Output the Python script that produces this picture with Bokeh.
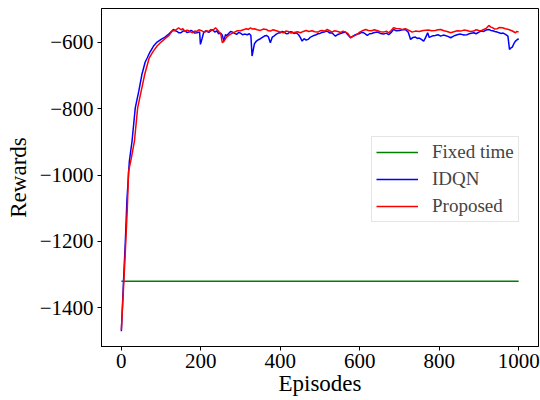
from bokeh.plotting import figure
from bokeh.models import Range1d, FixedTicker, Legend, LegendItem
from bokeh.embed import file_html
from bokeh.resources import INLINE

# ---- data ----
idqn_ep = [0, 5, 10, 14, 20, 27, 35, 44, 52, 60, 65, 72, 81, 90, 100, 110, 120, 131, 136, 140, 145,
           150, 155, 160, 165, 170, 175, 180, 185, 190, 197, 199, 203, 207, 212, 215, 220, 225, 230,
           235, 240, 245, 250, 254, 258, 262, 266, 270, 275, 280, 285, 290, 295, 300, 305, 310, 317,
           322, 326, 329, 335, 340, 345, 350, 355, 360, 365, 370, 375, 380, 385, 390, 395, 400, 405,
           410, 415, 420, 425, 430, 435, 440, 446, 450, 455, 460, 465, 470, 475, 480, 485, 490, 495,
           500, 505, 510, 518, 525, 530, 535, 539, 545, 550, 557, 564, 570, 577, 583, 589, 595, 600,
           605, 610, 619, 625, 630, 637, 645, 652, 660, 667, 673, 680, 685, 692, 700, 707, 715, 722,
           728, 734, 740, 745, 750, 755, 761, 766, 771, 775, 782, 790, 797, 804, 810, 815, 822, 829,
           835, 840, 847, 854, 862, 870, 878, 887, 893, 900, 906, 912, 918, 925, 930, 935, 940, 946,
           951, 955, 961, 967, 973, 977, 980, 984, 988, 992, 996, 1000]
idqn_val = [-1470, -1330, -1200, -1076, -960, -897, -798, -747, -696, -660, -648, -630, -612, -600,
            -592, -585, -575, -562, -566, -568, -572, -572, -567, -566, -571, -570, -565, -568,
            -573, -572, -570, -607, -590, -572, -566, -568, -571, -566, -563, -570, -566, -575,
            -573, -579, -597, -578, -580, -574, -568, -570, -574, -577, -571, -573, -578, -576,
            -578, -575, -580, -642, -605, -597, -593, -590, -586, -582, -580, -584, -602, -585,
            -581, -576, -573, -572, -568, -570, -575, -574, -569, -570, -574, -572, -578, -585,
            -597, -590, -594, -592, -586, -583, -580, -578, -575, -574, -571, -570, -567, -573,
            -572, -578, -582, -577, -575, -572, -570, -578, -587, -582, -578, -576, -574, -571,
            -572, -580, -575, -574, -571, -570, -574, -576, -573, -578, -570, -562, -566, -565,
            -563, -562, -570, -592, -586, -585, -589, -588, -592, -597, -586, -572, -586, -582,
            -580, -578, -582, -579, -580, -583, -587, -583, -580, -577, -576, -579, -578, -574,
            -572, -575, -570, -567, -568, -564, -562, -565, -566, -568, -570, -572, -574, -573,
            -577, -582, -622, -618, -615, -605, -597, -593, -590]

prop_ep = [0, 5, 10, 15, 17, 18, 25, 33, 41, 50, 59, 70, 80, 90, 100, 110, 120, 128, 135, 140, 144,
           150, 155, 160, 165, 170, 175, 180, 185, 190, 195, 200, 205, 210, 215, 220, 225, 230, 237,
           241, 245, 250, 254, 258, 265, 270, 275, 280, 285, 292, 300, 307, 315, 320, 325, 330, 335,
           342, 350, 357, 365, 370, 375, 382, 390, 398, 408, 414, 420, 427, 435, 443, 451, 458, 465,
           472, 480, 487, 495, 500, 505, 512, 518, 524, 530, 537, 545, 552, 558, 564, 570, 577, 583,
           589, 595, 600, 607, 615, 622, 630, 637, 645, 652, 660, 667, 673, 679, 685, 692, 700, 707,
           715, 724, 732, 740, 750, 760, 773, 781, 790, 797, 804, 812, 820, 829, 837, 845, 854, 862,
           870, 878, 887, 893, 900, 906, 912, 918, 925, 930, 935, 940, 946, 952, 959, 967, 975, 983,
           992, 996, 1000]
prop_val = [-1466, -1350, -1230, -1100, -1030, -990, -950, -897, -798, -747, -696, -648, -628,
            -612, -600, -590, -580, -567, -565, -561, -557, -563, -560, -568, -564, -566, -570,
            -572, -567, -568, -563, -565, -568, -570, -566, -568, -562, -565, -557, -562, -568,
            -574, -602, -598, -585, -580, -576, -573, -570, -566, -566, -563, -560, -562, -557,
            -561, -560, -563, -565, -561, -562, -566, -567, -563, -566, -569, -572, -567, -568,
            -573, -571, -569, -572, -568, -565, -568, -566, -569, -570, -566, -565, -567, -562,
            -566, -570, -566, -568, -571, -567, -570, -574, -587, -583, -580, -575, -570, -566,
            -562, -565, -566, -563, -566, -569, -570, -567, -572, -565, -557, -559, -560, -562,
            -560, -565, -570, -567, -568, -565, -564, -566, -565, -563, -562, -566, -568, -572,
            -569, -566, -567, -564, -565, -568, -567, -563, -565, -566, -562, -559, -550, -555,
            -557, -561, -560, -556, -557, -560, -562, -566, -572, -568, -570]

fixed_ep = [0, 1000]
fixed_val = [-1320, -1320]

x_ticks = [0, 200, 400, 600, 800, 1000]
y_ticks = [-1400, -1200, -1000, -800, -600]
y_tick_labels = ["\u22121400", "\u22121200", "\u22121000", "\u2212800", "\u2212600"]
series_names = ["Fixed time", "IDQN", "Proposed"]

FONT = "Liberation Serif"

p = figure(output_backend="svg", toolbar_location=None,
           frame_width=437, frame_height=338,
           min_border_left=101, min_border_right=2, min_border_top=8, min_border_bottom=40,
           x_range=Range1d(-50, 1050), y_range=Range1d(-1516, -499))

r_fixed = p.line(fixed_ep, fixed_val, line_color="#008000", line_width=1.5)
r_idqn = p.line(idqn_ep, idqn_val, line_color="#0000ff", line_width=1.5)
r_prop = p.line(prop_ep, prop_val, line_color="#ff0000", line_width=1.5)

p.xgrid.visible = False
p.ygrid.visible = False
p.outline_line_color = "black"
p.outline_line_width = 1
p.background_fill_color = "white"
p.border_fill_color = "white"

p.xaxis.ticker = FixedTicker(ticks=x_ticks)
p.yaxis.ticker = FixedTicker(ticks=y_ticks)
p.yaxis.major_label_overrides = {t: l for t, l in zip(y_ticks, y_tick_labels)}

for ax in (p.xaxis, p.yaxis):
    ax.axis_line_color = "black"
    ax.major_tick_line_color = "black"
    ax.major_tick_in = 0
    ax.major_tick_out = 4
    ax.minor_tick_line_color = None
    ax.major_label_text_font = FONT
    ax.major_label_text_font_size = "21px"
    ax.major_label_text_color = "black"
    ax.axis_label_text_font = FONT
    ax.axis_label_text_font_size = "23px"
    ax.axis_label_text_font_style = "normal"
    ax.axis_label_text_color = "black"

p.xaxis.major_label_standoff = 3
p.yaxis.major_label_standoff = 4
p.xaxis.axis_label = "Episodes"
p.yaxis.axis_label = "Rewards"
p.xaxis.axis_label_standoff = 0
p.yaxis.axis_label_standoff = 6

legend = Legend(items=[LegendItem(label=series_names[0], renderers=[r_fixed]),
                       LegendItem(label=series_names[1], renderers=[r_idqn]),
                       LegendItem(label=series_names[2], renderers=[r_prop])],
                location=(270, 124))
legend.label_text_font = FONT
legend.label_text_font_size = "19px"
legend.glyph_width = 42
legend.glyph_height = 20
legend.label_height = 20
legend.label_standoff = 14
legend.spacing = 5
legend.padding = 4
legend.margin = 0
legend.border_line_color = "#cccccc"
legend.border_line_width = 1
legend.background_fill_alpha = 0.8
p.add_layout(legend)

open("out.html", "w").write(file_html(p, INLINE))
